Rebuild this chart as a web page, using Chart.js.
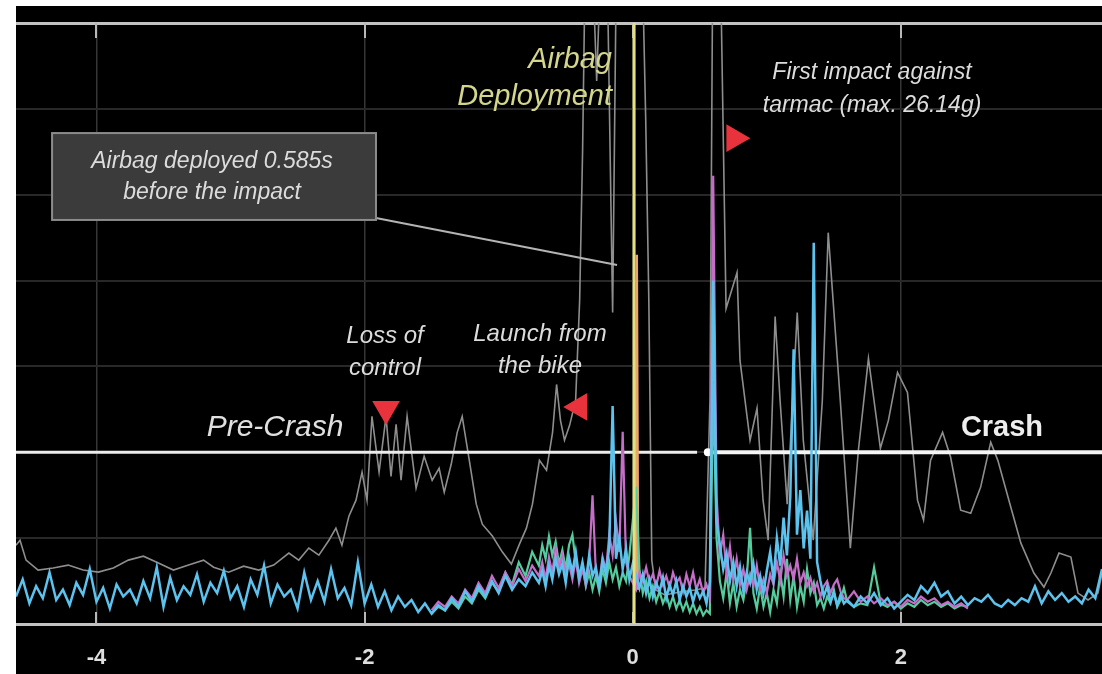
<!DOCTYPE html>
<html>
<head>
<meta charset="utf-8">
<script src="https://cdn.jsdelivr.net/npm/chart.js@4.4.1/dist/chart.umd.min.js"></script>
<style>
  html, body { margin: 0; padding: 0; background: #fff; }
  #wrap { position: absolute; left: 16px; top: 6px; width: 1086px; height: 668px; background: #000; }
</style>
</head>
<body>
<div id="wrap"><canvas id="myChart" width="1086" height="668"></canvas></div>
<script>
// time axis (s) and acceleration (g)
var xTicks = [-4, -2, 0, 2];
var yTicks = [0, 5, 10, 15, 20, 25, 30, 35];

var airbagT = 0.01;
var crashLevel = 10;
var preCrashT = [-4.6, 0.48];
var crashT = [0.56, 3.5];

// sample times of the three accelerometer axes
var tBase = [-4.6,-4.55,-4.5,-4.45,-4.4,-4.35,-4.3,-4.25,-4.2,-4.15,-4.1,-4.05,-4,-3.95,-3.9,-3.85,-3.8,-3.75,-3.7,-3.65,
  -3.6,-3.55,-3.5,-3.45,-3.4,-3.35,-3.3,-3.25,-3.2,-3.15,-3.1,-3.05,-3,-2.95,-2.9,-2.85,-2.8,-2.75,-2.7,-2.65,
  -2.6,-2.55,-2.5,-2.45,-2.4,-2.35,-2.3,-2.25,-2.2,-2.15,-2.1,-2.05,-2,-1.95,-1.9,-1.85,-1.8,-1.75,-1.7,-1.65,
  -1.6,-1.55,-1.5,-1.45,-1.4,-1.35,-1.3,-1.25,-1.2,-1.15,-1.1,-1.05,-1,-0.95,-0.9,-0.85,-0.8,-0.75,
  -0.7,-0.675,-0.65,-0.625,-0.6,-0.575,-0.55,-0.525,-0.5,-0.475,-0.45,-0.425,-0.4,-0.375,-0.35,-0.325,-0.3,-0.275,-0.25,-0.225,
  -0.2,-0.175,-0.15,-0.125,-0.1,-0.075,-0.05,-0.025,0,0.025,0.05,0.075,0.1,0.125,0.15,0.175,0.2,0.225,0.25,0.275,
  0.3,0.325,0.35,0.375,0.4,0.425,0.45,0.475,0.5,0.525,0.55,0.575,0.6,0.625,0.65,0.675,0.7,0.725,0.75,0.775,
  0.8,0.825,0.85,0.875,0.9,0.925,0.95,0.975,1,1.025,1.05,1.075,1.1,1.125,1.15,1.175,1.2,1.225,1.25,1.275,
  1.3,1.325,1.35,1.375,1.4,1.425,1.45,1.475,1.5,1.525,1.55,1.575,
  1.6,1.65,1.7,1.75,1.8,1.85,1.9,1.95,2,2.05,2.1,2.15,2.2,2.25,2.3,2.35,2.4,2.45,2.5,2.55,
  2.6,2.65,2.7,2.75,2.8,2.85,2.9,2.95,3,3.05,3.1,3.15,3.2,3.25,3.3,3.35,3.4,3.45,3.5];

var blueG = [1.6,2.6,1.2,2.2,1.5,3.0,1.4,2.0,1.1,2.4,1.7,3.2,1.3,2.1,0.9,2.3,1.6,2.0,1.2,2.5,
  1.5,3.3,1.0,2.7,1.4,2.2,1.7,2.9,1.3,2.4,1.8,3.1,1.5,2.2,1.0,2.6,1.7,3.4,1.2,2.3,
  1.6,2.0,0.9,3.0,1.4,2.5,1.3,3.2,1.5,2.1,1.1,3.6,1.2,2.3,1.0,1.9,0.8,1.6,1.0,1.4,
  0.7,1.2,0.6,1.1,0.8,1.5,1.0,1.9,1.3,2.2,1.6,2.5,1.8,2.8,2.0,2.6,2.2,3.0,
  2.4,3.1,2.2,3.4,2.6,3.8,2.9,3.5,2.4,3.9,3.0,4.2,2.7,3.6,2.5,4.0,2.8,3.3,2.2,3.7,
  2.9,4.5,12.7,3.8,5.0,3.2,4.4,2.6,3.5,2.8,2.1,2.9,1.8,2.6,1.6,2.4,1.9,2.7,1.5,2.3,
  1.7,2.5,1.4,2.2,1.6,2.1,1.3,2.0,1.5,1.9,1.2,2.4,20.0,6.0,4.6,3.2,4.1,2.5,3.6,2.2,
  3.3,1.9,3.0,2.4,3.5,2.0,2.8,1.8,3.1,4.2,2.6,5.0,3.4,6.2,4.0,7.4,16.0,5.2,7.8,4.4,
  6.6,3.8,22.2,3.6,2.5,1.6,2.2,1.3,1.8,1.1,1.7,1.2,
  1.4,1.0,1.6,1.2,1.8,1.1,1.5,0.9,1.3,1.7,1.4,2.2,1.8,2.4,1.6,1.9,1.2,1.6,1.1,1.5,
  1.3,1.7,1.2,1.0,1.4,1.1,1.5,1.3,2.2,1.2,1.9,1.4,1.8,1.3,1.6,1.2,2.0,1.5,3.2];

// magenta and green start at t = -1.5 and run to t = 2.5
var burstStart = tBase.indexOf(-1.5);
var magentaG = [0.8,1.3,1.0,1.6,1.2,2.0,1.5,2.4,1.8,2.8,2.1,3.0,2.2,3.2,2.5,3.4,
  2.8,3.6,2.6,3.9,3.0,4.4,3.2,4.0,2.9,3.5,2.6,3.8,2.4,3.2,2.3,3.6,7.5,3.0,2.4,3.9,
  3.1,5.2,4.0,6.0,4.2,11.2,3.6,2.8,2.4,2.0,3.0,2.5,3.3,2.4,2.9,2.2,3.1,2.3,
  2.8,2.1,3.0,2.4,2.7,1.9,2.9,2.2,3.0,2.0,2.6,1.8,2.3,1.6,
  26.1,7.5,4.0,5.2,3.0,4.5,2.6,3.8,2.3,3.2,2.0,2.9,2.2,3.4,2.0,2.6,1.8,2.9,2.3,3.6,
  2.5,4.0,2.8,3.4,2.6,3.8,2.4,3.0,2.2,2.7,1.9,2.4,1.6,2.2,2.5,1.8,2.3,2.6,1.9,1.5,
  1.4,1.9,1.3,1.6,1.2,1.5,1.1,1.3,1.0,1.4,1.2,1.6,1.3,1.5,1.1,1.3,1.0,1.2,0.9];
var greenG = [0.6,1.0,0.8,1.3,0.9,1.6,1.2,2.0,1.5,2.4,1.9,3.0,2.3,3.6,2.8,4.2,
  3.4,4.6,3.8,5.1,4.0,4.8,3.5,4.3,3.2,4.6,5.2,3.6,2.8,3.4,2.2,3.0,2.0,2.8,1.9,3.2,
  2.4,3.6,2.6,3.3,2.2,3.0,2.5,4.0,6.0,8.0,3.2,1.8,2.5,1.5,2.2,1.3,1.9,1.2,
  1.7,1.0,1.6,0.9,1.4,0.8,1.3,0.7,1.2,0.6,1.0,0.5,0.8,0.6,
  14.0,5.0,2.5,1.5,3.0,1.2,2.4,1.0,2.0,1.4,2.6,5.6,1.8,0.9,2.2,1.0,1.8,0.7,2.0,1.2,
  3.0,1.6,3.8,1.4,2.8,1.0,2.2,1.3,3.2,1.8,2.4,1.1,1.5,0.9,1.6,1.2,2.0,1.0,1.4,2.1,
  1.3,1.0,1.2,1.1,3.3,1.2,1.0,1.3,0.9,1.2,1.0,1.4,1.1,1.3,1.0,1.2,0.9,1.1,1.0];

// airbag trigger trace
var deployT = [0.02, 0.03, 0.04];
var deployG = [2.0, 21.5, 2.0];

// resultant (grey) trace
var greyT = [-4.6,-4.57,-4.525,-4.435,-4.323,-4.211,-4.099,-3.986,-3.874,-3.762,
  -3.65,-3.538,-3.426,-3.313,-3.201,-3.126,-3.014,-2.902,-2.79,-2.678,
  -2.565,-2.491,-2.416,-2.341,-2.266,-2.214,-2.169,-2.117,-2.064,-2.019,
  -1.982,-1.945,-1.892,-1.84,-1.803,-1.765,-1.728,-1.683,-1.616,-1.556,
  -1.496,-1.444,-1.406,-1.354,-1.309,-1.272,-1.219,-1.167,-1.122,-1.047,
  -0.972,-0.905,-0.845,-0.793,-0.748,-0.696,-0.643,-0.598,-0.568,-0.539,
  -0.509,-0.471,-0.426,-0.396,-0.374,-0.352,-0.307,-0.269,-0.232,-0.194,
  -0.15,-0.12,-0.06,0.015,0.067,0.097,0.12,0.142,0.172,0.239,
  0.352,0.464,0.539,0.576,0.598,0.651,0.696,0.778,0.8,0.875,
  0.927,0.972,1.01,1.062,1.099,1.152,1.227,1.272,1.346,1.414,
  1.458,1.548,1.623,1.683,1.758,1.847,1.907,1.975,2.049,2.124,
  2.169,2.221,2.311,2.371,2.446,2.521,2.595,2.67,2.723,2.82,
  2.895,2.992,3.067,3.119,3.179,3.268,3.321,3.396,3.47,3.5];
var greyG = [4.59,4.88,3.72,3.14,3.26,3.43,3.14,3.02,3.26,3.72,
  3.95,3.55,3.14,3.43,3.72,3.31,3.02,3.37,3.14,3.43,
  4.13,3.72,4.42,4.01,4.88,5.58,4.59,6.28,7.21,8.84,
  7.21,12.09,8.84,12.09,8.6,11.63,8.37,12.09,7.91,9.77,
  8.37,9.07,7.67,9.3,11.16,12.09,9.53,6.98,5.81,5.12,
  4.19,3.49,4.65,5.58,6.98,9.53,8.95,11.16,13.95,11.86,
  10.7,11.57,13.02,18.84,27.56,40,40,31.63,40,40,
  18.14,40,40,40,40,29.3,18.84,3.72,1.98,1.69,
  1.86,1.98,2.09,13.02,40,40,18.37,20.47,15.35,10.7,
  12.56,7.21,4.88,17.91,13.02,6.98,18.14,10.7,4.88,13.02,
  22.79,13.02,4.42,10.12,15.47,10.23,11.86,14.65,13.49,7.21,
  6.05,9.53,11.16,9.71,6.63,6.45,7.97,10.58,9.53,6.8,
  4.71,2.97,2.15,2.97,4.13,3.9,1.8,1.4,1.8,2.97];

// event markers
var markerT = [-1.84, -0.399, 0.758];
var markerG = [12.52, 12.64, 28.29];
var markerRot = [180, 150, 90];

function pts(ts, gs, from) {
  from = from || 0;
  return gs.map(function (g, i) { return { x: ts[from + i], y: g }; });
}

var textFont = "'Liberation Sans', Arial, sans-serif";
var notes = [
  { lines: ['Airbag', 'Deployment'], t: -0.155, g: [32.85, 30.69], align: 'right', font: 'italic 29px ' + textFont, color: '#d4d68c' },
  { lines: ['First impact against', 'tarmac (max. 26.14g)'], t: 1.785, g: [32.1, 30.2], align: 'center', font: 'italic 23px ' + textFont, color: '#dcdcdc' },
  { lines: ['Airbag deployed 0.585s', 'before the impact'], t: -3.138, g: [26.9, 25.1], align: 'center', font: 'italic 23px ' + textFont, color: '#dcdcdc' },
  { lines: ['Loss of', 'control'], t: -1.848, g: [16.77, 14.91], align: 'center', font: 'italic 24px ' + textFont, color: '#dcdcdc' },
  { lines: ['Launch from', 'the bike'], t: -0.692, g: [16.89, 15.02], align: 'center', font: 'italic 24px ' + textFont, color: '#dcdcdc' },
  { lines: ['Pre-Crash'], t: -2.668, g: [11.41], align: 'center', font: 'italic 30px ' + textFont, color: '#e0e0e0' },
  { lines: ['Crash'], t: 2.754, g: [11.41], align: 'center', font: 'bold 29px ' + textFont, color: '#eeeeee' }
];
var callout = { t0: -4.331, t1: -1.915, g0: 23.53, g1: 28.59, lead: [[-1.915, 23.64], [-0.117, 20.91]] };

var overlay = {
  id: 'overlay',
  beforeDatasetsDraw: function (chart) {
    var ctx = chart.ctx, a = chart.chartArea, x = chart.scales.x;
    ctx.save();
    ctx.strokeStyle = '#b8b8b8';
    ctx.lineWidth = 2;
    xTicks.forEach(function (v) {
      var px = Math.round(x.getPixelForValue(v));
      ctx.beginPath();
      ctx.moveTo(px, a.top);
      ctx.lineTo(px, a.top + 15);
      ctx.moveTo(px, a.bottom);
      ctx.lineTo(px, a.bottom - 12);
      ctx.stroke();
    });
    ctx.restore();
  },
  afterDatasetsDraw: function (chart) {
    var ctx = chart.ctx, a = chart.chartArea, x = chart.scales.x, y = chart.scales.y;
    ctx.save();
    // airbag deployment marker
    var ax = x.getPixelForValue(airbagT);
    ctx.strokeStyle = '#e4e07c';
    ctx.lineWidth = 3;
    ctx.beginPath();
    ctx.moveTo(ax, a.top);
    ctx.lineTo(ax, a.bottom);
    ctx.stroke();

    // callout box and leader
    var bx0 = x.getPixelForValue(callout.t0), bx1 = x.getPixelForValue(callout.t1);
    var by0 = y.getPixelForValue(callout.g1), by1 = y.getPixelForValue(callout.g0);
    ctx.strokeStyle = '#b4b4b4';
    ctx.lineWidth = 2;
    ctx.beginPath();
    ctx.moveTo(x.getPixelForValue(callout.lead[0][0]), y.getPixelForValue(callout.lead[0][1]));
    ctx.lineTo(x.getPixelForValue(callout.lead[1][0]), y.getPixelForValue(callout.lead[1][1]));
    ctx.stroke();
    ctx.fillStyle = '#3b3b3b';
    ctx.fillRect(bx0, by0, bx1 - bx0, by1 - by0);
    ctx.strokeStyle = '#8c8c8c';
    ctx.strokeRect(bx0, by0, bx1 - bx0, by1 - by0);

    // text notes
    ctx.textBaseline = 'middle';
    notes.forEach(function (n) {
      ctx.font = n.font;
      ctx.fillStyle = n.color;
      ctx.textAlign = n.align;
      n.lines.forEach(function (line, i) {
        ctx.fillText(line, x.getPixelForValue(n.t), y.getPixelForValue(n.g[i]));
      });
    });
    ctx.restore();
  }
};

var ctx = document.getElementById('myChart').getContext('2d');
var chart = new Chart(ctx, {
  type: 'line',
  data: {
    datasets: [
      {
        data: pts(markerT, markerG),
        showLine: false,
        pointStyle: 'triangle',
        pointRadius: 16,
        pointRotation: markerRot,
        pointBackgroundColor: '#e8333c',
        pointBorderWidth: 0
      },
      {
        data: pts(tBase, blueG),
        borderColor: '#5cc2ee',
        borderWidth: 2.5,
        pointRadius: 0,
        tension: 0
      },
      {
        data: pts(tBase, magentaG, burstStart),
        borderColor: '#c56ec9',
        borderWidth: 2.2,
        pointRadius: 0,
        tension: 0
      },
      {
        data: pts(tBase, greenG, burstStart),
        borderColor: '#55cc9e',
        borderWidth: 2.2,
        pointRadius: 0,
        tension: 0
      },
      {
        data: pts(deployT, deployG),
        borderColor: '#eaa56c',
        borderWidth: 2.5,
        pointRadius: 0,
        tension: 0
      },
      {
        data: pts(preCrashT, [crashLevel, crashLevel]),
        borderColor: '#ececec',
        borderWidth: 3,
        pointRadius: 0
      },
      {
        data: pts(crashT, [crashLevel, crashLevel]),
        borderColor: '#f4f4f4',
        borderWidth: 4,
        pointRadius: [4, 0],
        pointBackgroundColor: '#ffffff',
        pointBorderWidth: 0
      },
      {
        data: pts(greyT, greyG),
        borderColor: '#8e8e8e',
        borderWidth: 1.6,
        pointRadius: 0,
        tension: 0
      }
    ]
  },
  options: {
    responsive: false,
    animation: false,
    layout: { autoPadding: false, padding: { top: 17, left: 0, right: 0, bottom: 0 } },
    plugins: {
      legend: { display: false },
      tooltip: { enabled: false }
    },
    scales: {
      x: {
        type: 'linear',
        min: -4.6,
        max: 3.5,
        afterBuildTicks: function (s) { s.ticks = xTicks.map(function (v) { return { value: v }; }); },
        afterFit: function (s) { s.height = 50; s.paddingLeft = 0; s.paddingRight = 0; },
        border: { display: false },
        grid: { color: '#363636', lineWidth: 1.5, drawTicks: false },
        ticks: {
          color: '#dedede',
          padding: 21,
          font: { family: textFont, size: 22, weight: 'bold' },
          callback: function (v) { return String(v); }
        }
      },
      y: {
        min: 0,
        max: 35,
        afterBuildTicks: function (s) { s.ticks = yTicks.map(function (v) { return { value: v }; }); },
        afterFit: function (s) { s.width = 0; s.paddingTop = 0; s.paddingBottom = 0; },
        border: { display: false },
        grid: {
          drawTicks: false,
          color: function (c) { return (c.tick.value === 0 || c.tick.value === 35) ? '#c2c2c2' : '#282828'; },
          lineWidth: function (c) { return (c.tick.value === 0 || c.tick.value === 35) ? 3 : 2; }
        },
        ticks: { display: false }
      }
    }
  },
  plugins: [overlay]
});
</script>
</body>
</html>
